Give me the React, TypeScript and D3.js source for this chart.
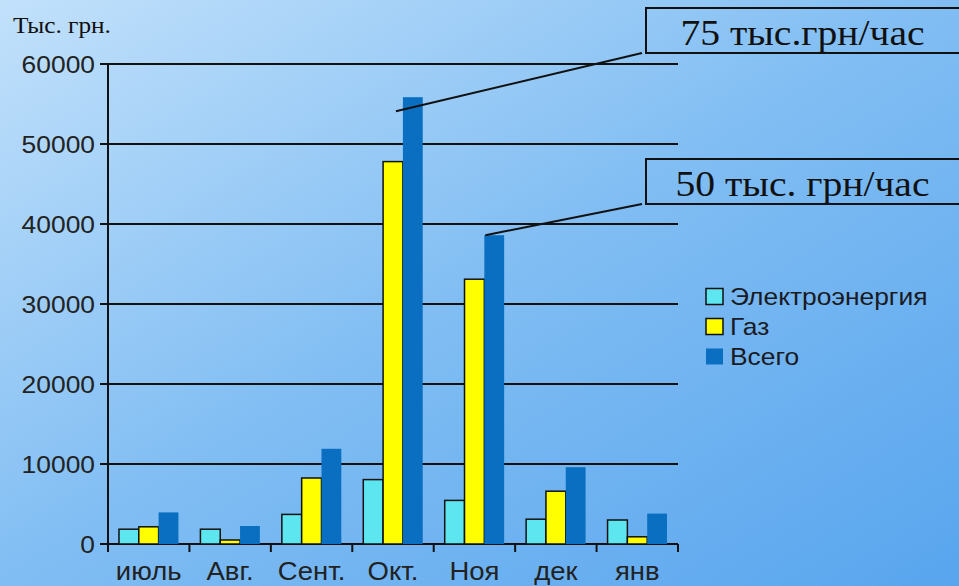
import React from 'react';
import * as d3 from 'd3';

const width = 959,
  height = 586;

const months = ['июль', 'Авг.', 'Сент.', 'Окт.', 'Ноя', 'дек', 'янв'];
const series = ['Электроэнергия', 'Газ', 'Всего'];
const electricity = [1850, 1850, 3700, 8050, 5450, 3100, 3000];
const gas = [2150, 500, 8250, 47800, 33100, 6600, 900];
const total = [3950, 2250, 11900, 55850, 38600, 9600, 3800];
const yTicks = [0, 10000, 20000, 30000, 40000, 50000, 60000];
const notes = ['75 тыс.грн/час', '50 тыс. грн/час'];
const noteMonths = ['Окт.', 'Ноя'];

const fills = ['#5de6ef', '#ffff00', '#0a6fc0'];
const strokes = ['#111', '#111', 'none'];

const margin = { left: 108, right: 281, top: 64, bottom: 42 };
const stretch = 1.1; // the original slide text is a bit wider than the fonts we have

const App = () => {
  const values = [electricity, gas, total];

  const x = d3.scaleBand().domain(months).range([margin.left, width - margin.right]).padding(0);
  const bw = x.bandwidth();
  const x1 = d3.scaleBand().domain(series).range([bw * 0.135, bw * 0.865]).padding(0);
  const y = d3.scaleLinear().domain([0, 60000]).range([height - margin.bottom, margin.top]);

  const sans = "'Liberation Sans', Arial, sans-serif";
  const serif = "'Liberation Serif', 'Times New Roman', serif";

  const at = (tx: number, ty: number) => `translate(${tx},${ty}) scale(${stretch},1)`;

  // annotation boxes in the top-right, leader lines to the "Всего" bars
  const boxes = [
    { y0: 8, y1: 53 },
    { y0: 159, y1: 204 },
  ];
  const boxLeft = 646;

  return (
    <svg width={width} height={height} style={{ position: 'absolute', left: 0, top: 0 }}>
      <defs>
        <linearGradient id="bg" x1="0" y1="0" x2="1" y2="1">
          <stop offset="0" stopColor="#c2e1fb" />
          <stop offset="0.5" stopColor="#80bdf3" />
          <stop offset="1" stopColor="#58a5ee" />
        </linearGradient>
      </defs>
      <rect width={width} height={height} fill="url(#bg)" />

      <text transform={at(13, 33)} fontFamily={serif} fontSize={23} fill="#111">Тыс. грн.</text>

      {/* gridlines + y ticks */}
      {yTicks.map((t) => (
        <g key={t}>
          <line x1={margin.left - 8} x2={width - margin.right} y1={y(t)} y2={y(t)} stroke="#111" strokeWidth={2} />
          <text transform={at(95, y(t))} dy="0.36em" textAnchor="end" fontFamily={sans} fontSize={24} fill="#222">
            {t}
          </text>
        </g>
      ))}
      <line x1={margin.left} x2={margin.left} y1={y(60000)} y2={y(0) + 8} stroke="#111" strokeWidth={2} />

      {/* bars */}
      {months.map((m, i) => (
        <g key={m} transform={`translate(${x(m)},0)`}>
          {series.map((s, j) => (
            <rect
              key={s}
              x={x1(s)}
              y={y(values[j][i])}
              width={x1.bandwidth()}
              height={y(0) - y(values[j][i])}
              fill={fills[j]}
              stroke={strokes[j]}
              strokeWidth={1.5}
            />
          ))}
        </g>
      ))}

      {/* x axis ticks and labels */}
      {months.map((m) => (
        <g key={m}>
          <line x1={x(m)} x2={x(m)} y1={y(0)} y2={y(0) + 8} stroke="#111" strokeWidth={2} />
          <text transform={at((x(m) as number) + bw / 2, 580)} textAnchor="middle" fontFamily={sans} fontSize={25} fill="#222">
            {m}
          </text>
        </g>
      ))}
      <line x1={width - margin.right} x2={width - margin.right} y1={y(0)} y2={y(0) + 8} stroke="#111" strokeWidth={2} />

      {/* legend */}
      {series.map((s, j) => (
        <g key={s} transform={`translate(705,${296.5 + j * 30})`}>
          <rect x={1} y={-8} width={17} height={16} fill={fills[j]} stroke={strokes[j]} strokeWidth={1.5} />
          <text transform={at(25, 0)} dy="0.36em" fontFamily={sans} fontSize={24} fill="#1a1a22">
            {s}
          </text>
        </g>
      ))}

      {/* annotations */}
      {notes.map((n, k) => {
        const i = months.indexOf(noteMonths[k]);
        const bx = (x(noteMonths[k]) as number) + (x1('Всего') as number);
        const sx = k === 0 ? bx - 7 : bx + 1;
        const sy = k === 0 ? y(total[i]) + 14 : y(total[i]);
        const b = boxes[k];
        return (
          <g key={n}>
            <line x1={sx} y1={sy} x2={boxLeft - 4} y2={b.y1} stroke="#111" strokeWidth={2} />
            <rect x={boxLeft} y={b.y0} width={width - boxLeft + 4} height={b.y1 - b.y0} fill="none" stroke="#111" strokeWidth={2} />
            <text transform={at((boxLeft + width) / 2, b.y1 - 8.5)} textAnchor="middle" fontFamily={serif} fontSize={36} fill="#111">
              {n}
            </text>
          </g>
        );
      })}
    </svg>
  );
};

export default App;
